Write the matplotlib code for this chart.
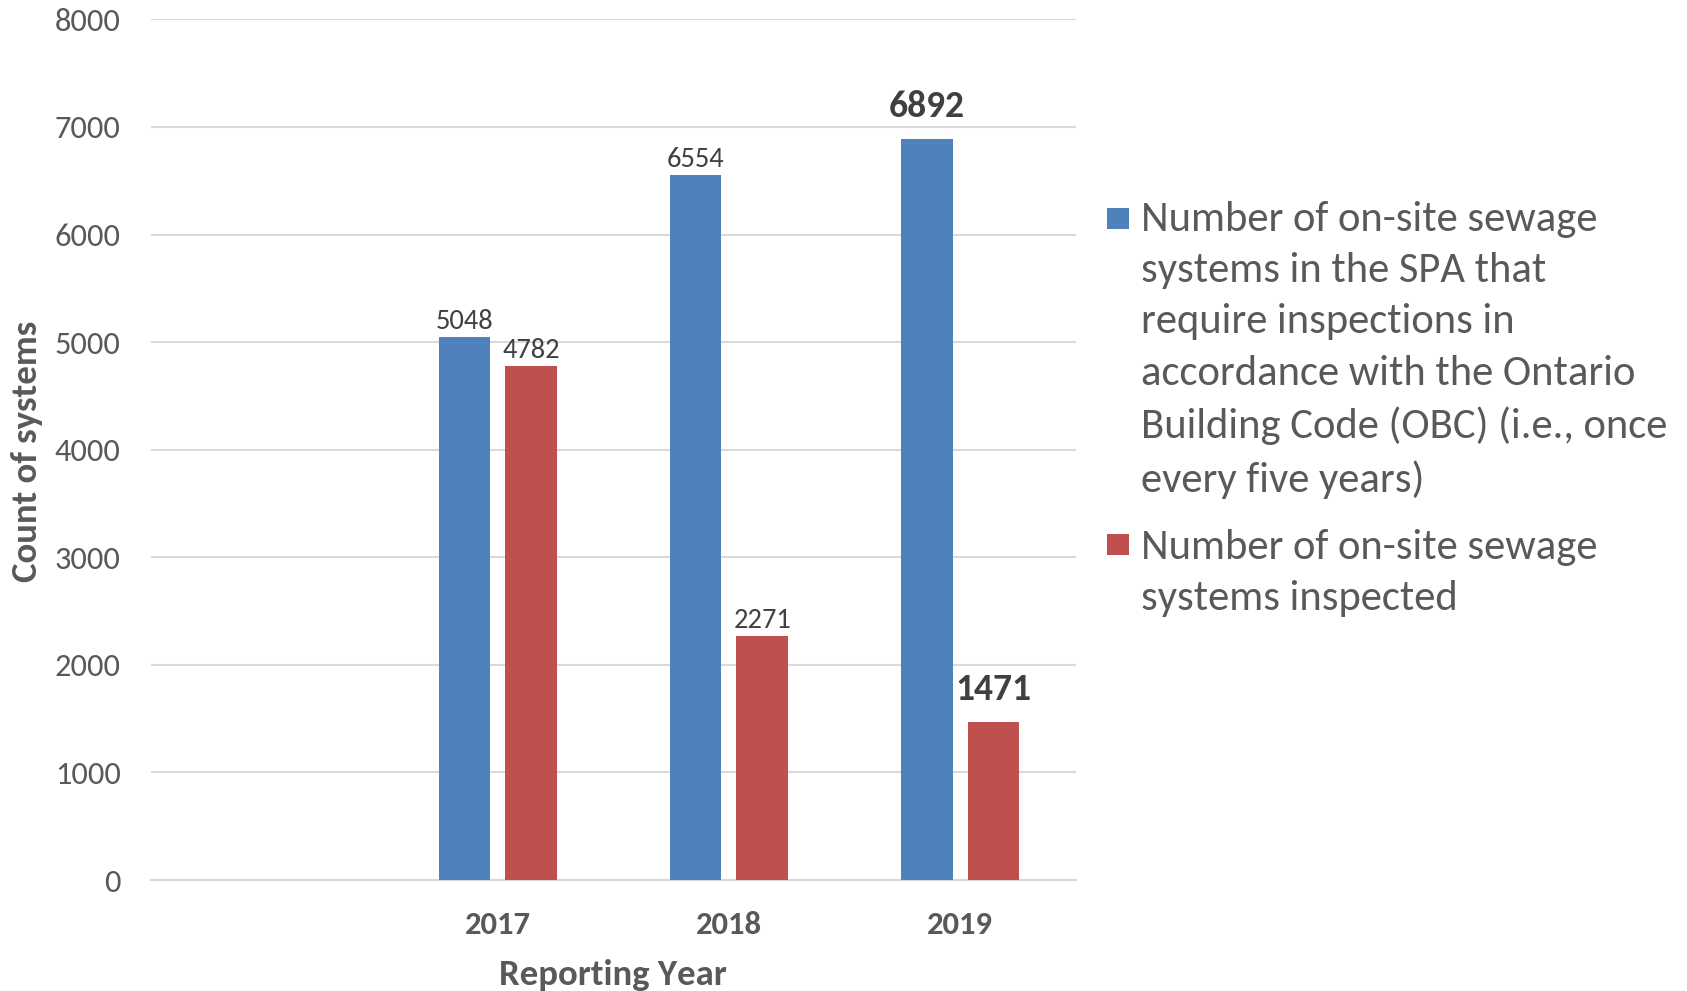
import matplotlib
matplotlib.use("Agg")
import matplotlib.pyplot as plt
from matplotlib.patches import Rectangle
import numpy as np

categories = ["", "2017", "2018", "2019"]
required = [np.nan, 5048, 6554, 6892]
inspected = [np.nan, 4782, 2271, 1471]
bold_labels_required = [False, False, False, True]
bold_labels_inspected = [False, False, False, True]
series_names = [
    "Number of on-site sewage\nsystems in the SPA that\nrequire inspections in\naccordance with the Ontario\nBuilding Code (OBC) (i.e., once\nevery five years)",
    "Number of on-site sewage\nsystems inspected",
]
y_ticks = [0, 1000, 2000, 3000, 4000, 5000, 6000, 7000, 8000]

plt.rcParams['font.family'] = ['Carlito', 'Lato', 'DejaVu Sans']
TXT = "#595959"
LBL = "#404040"
BLUE = "#4F81BD"
RED = "#C0504D"
colors = [BLUE, RED]

W, H = 1687, 991
fig = plt.figure(figsize=(W / 100, H / 100), dpi=100)
ax = fig.add_axes([150.6 / W, 1 - 880 / H, (1076 - 150.6) / W, (880 - 19.4) / H])

x = np.arange(len(categories))
w = 0.223
off = 0.144
b1 = ax.bar(x - off, required, w, color=BLUE, label=series_names[0], zorder=3)
b2 = ax.bar(x + off, inspected, w, color=RED, label=series_names[1], zorder=3)

def add_labels(xs, vals, bolds):
    for xi, v, bold in zip(xs, vals, bolds):
        if np.isnan(v):
            continue
        ax.annotate(f"{int(v)}", (xi, v), xytext=(0, 11 if bold else 2),
                    textcoords="offset points",
                    ha="center", va="bottom", color=LBL,
                    fontsize=27 if bold else 20.5,
                    fontweight="bold" if bold else "normal", zorder=4)

add_labels(x - off, required, bold_labels_required)
add_labels(x + off, inspected, bold_labels_inspected)

ax.set_xlim(-0.5, len(categories) - 0.5)
ax.set_ylim(0, 8000)
ax.set_yticks(y_ticks)
ax.set_yticklabels([str(t) for t in y_ticks], fontsize=23.3, color=TXT)
ax.set_xticks(x)
ax.set_xticklabels(categories, fontsize=23.5, fontweight="bold", color=TXT)
ax.tick_params(axis="both", length=0)
ax.tick_params(axis="y", pad=21.5)
ax.tick_params(axis="x", pad=22)
ax.grid(axis="y", color="#D9D9D9", linewidth=1.5, zorder=0)
ax.set_axisbelow(True)
for s in ["top", "right", "left"]:
    ax.spines[s].set_visible(False)
ax.spines["bottom"].set_color("#D9D9D9")
ax.spines["bottom"].set_linewidth(1.5)

ax.set_xlabel("Reporting Year", fontsize=26.5, fontweight="bold", color=TXT, labelpad=14.5)
ax.set_ylabel("Count of systems", fontsize=26.5, fontweight="bold", color=TXT)
ax.yaxis.set_label_coords(-0.1163, 0.4985)

# legend (manual, handle aligned with the first line of each label)
patch_tops = [207.6, 533.6]
text_centers = [350.0, 573.0]
for name, c, pt, tc in zip(series_names, colors, patch_tops, text_centers):
    fig.patches.append(Rectangle((1107 / W, 1 - (pt + 21.5) / H), 21.5 / W, 21.5 / H,
                                 transform=fig.transFigure, facecolor=c, edgecolor="none"))
    fig.text(1141 / W, 1 - tc / H, name, fontsize=30.7, color=TXT, ha="left", va="center",
             linespacing=1.47)

fig.savefig("out.png", dpi=100, facecolor="white")
